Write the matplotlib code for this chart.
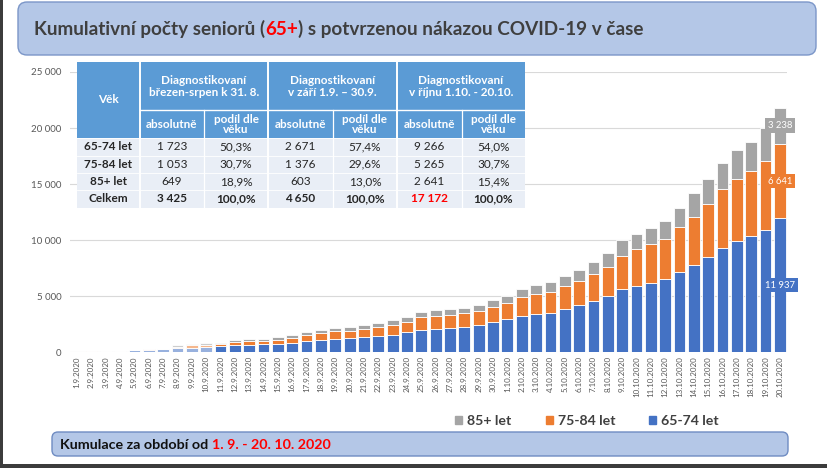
import matplotlib
matplotlib.use('Agg')
import matplotlib.pyplot as plt
from matplotlib.patches import FancyBboxPatch, Rectangle, Patch
from matplotlib.ticker import FuncFormatter

plt.rcParams['font.family'] = ['Lato', 'DejaVu Sans']

# ---------------- data ----------------
dates = [f"{d}.9.2020" for d in range(1, 31)] + [f"{d}.10.2020" for d in range(1, 21)]

s6574 = [20, 40, 60, 80, 150, 200, 260, 320, 400, 430,
         500, 600, 640, 680, 700, 800, 980, 1070, 1190, 1250,
         1370, 1430, 1550, 1790, 1960, 2080, 2150, 2260, 2410, 2671,
         2920, 3210, 3390, 3510, 3870, 4170, 4550, 5000, 5600, 5920,
         6190, 6550, 7140, 7770, 8450, 9290, 9910, 10360, 10890, 11937]
s7584 = [10, 15, 25, 30, 20, 30, 30, 160, 200, 210,
         200, 280, 320, 320, 360, 420, 510, 600, 660, 660,
         710, 830, 860, 890, 1140, 1130, 1150, 1190, 1250, 1376,
         1480, 1670, 1790, 1880, 2020, 2200, 2410, 2620, 3000, 3250,
         3420, 3570, 3990, 4310, 4760, 5230, 5510, 5770, 6190, 6641]
s85 = [10, 15, 15, 20, 20, 20, 20, 120, 120, 140,
       130, 150, 160, 190, 270, 310, 330, 290, 320, 350,
       300, 360, 450, 480, 500, 540, 510, 510, 540, 603,
       630, 720, 800, 830, 870, 950, 1100, 1190, 1360, 1370,
       1430, 1610, 1760, 2090, 2210, 2330, 2620, 2650, 2950, 3238]

series_names = ['65-74 let', '75-84 let', '85+ let']
yticks = [0, 5000, 10000, 15000, 20000, 25000]

title_parts = [("Kumulativní počty seniorů (", '#3f3f3f'), ("65+", '#ff0000'),
               (") s potvrzenou nákazou COVID-19 v čase", '#3f3f3f')]
footer_parts = [("Kumulace za období od ", '#111111'), ("1. 9. - 20. 10. 2020", '#ff0000')]

tbl_groups = ["Diagnostikovaní\nbřezen-srpen k 31. 8.",
              "Diagnostikovaní\nv září 1.9. – 30.9.",
              "Diagnostikovaní\nv říjnu 1.10. - 20.10."]
tbl_sub = ["absolutně", "podíl dle\nvěku"]
tbl_rows = ["65-74 let", "75-84 let", "85+ let", "Celkem"]
tbl_vals = [["1 723", "50,3%", "2 671", "57,4%", "9 266", "54,0%"],
            ["1 053", "30,7%", "1 376", "29,6%", "5 265", "30,7%"],
            ["649", "18,9%", "603", "13,0%", "2 641", "15,4%"],
            ["3 425", "100,0%", "4 650", "100,0%", "17 172", "100,0%"]]

BLUE, ORANGE, GRAY = '#4472c4', '#ed7d31', '#a5a5a5'
W, H = 827, 468

fig = plt.figure(figsize=(W / 100, H / 100), dpi=100)
fig.patch.set_facecolor('white')

# ---------------- chart ----------------
L, R, T, B = 70, 787, 72, 352
ax = fig.add_axes([L / W, 1 - B / H, (R - L) / W, (B - T) / H])
x = list(range(len(dates)))
bw = 0.82
ax.bar(x, s6574, width=bw, color=BLUE, edgecolor='white', linewidth=0.6, zorder=3)
bot2 = list(s6574)
ax.bar(x, s7584, width=bw, bottom=bot2, color=ORANGE, edgecolor='white', linewidth=0.6, zorder=3)
bot3 = [a + b for a, b in zip(s6574, s7584)]
ax.bar(x, s85, width=bw, bottom=bot3, color=GRAY, edgecolor='white', linewidth=0.6, zorder=3)

ax.set_xlim(-0.5, len(dates) - 0.5)
ax.set_ylim(0, 25000)
ax.set_yticks(yticks)
ax.yaxis.set_major_formatter(FuncFormatter(lambda v, p: f"{int(v):,}".replace(',', ' ')))
ax.set_xticks(x)
ax.set_xticklabels(dates, rotation=90, fontsize=5.8, color='#595959')
ax.tick_params(axis='y', labelsize=7, labelcolor='#595959', length=0, pad=6)
ax.tick_params(axis='x', length=0, pad=3)
ax.grid(axis='y', color='#d9d9d9', linewidth=0.8, zorder=0)
for s in ax.spines.values():
    s.set_visible(False)

# data labels on the last bar
last = len(dates) - 1
lab_kw = dict(ha='center', va='center', color='white', fontsize=6.8, zorder=6)
ax.text(last, s6574[last] / 2, f"{s6574[last]:,}".replace(',', ' '),
        bbox=dict(boxstyle='square,pad=0.3', fc=BLUE, ec='none'), **lab_kw)
ax.text(last, bot2[last] + s7584[last] / 2, f"{s7584[last]:,}".replace(',', ' '),
        bbox=dict(boxstyle='square,pad=0.3', fc=ORANGE, ec='none'), **lab_kw)
ax.text(last, bot3[last] + s85[last] / 2, f"{s85[last]:,}".replace(',', ' '),
        bbox=dict(boxstyle='square,pad=0.3', fc=GRAY, ec='none'), **lab_kw)

# legend
handles = [Patch(color=GRAY, label=series_names[2]),
           Patch(color=ORANGE, label=series_names[1]),
           Patch(color=BLUE, label=series_names[0])]
leg = fig.legend(handles=handles, loc='center', bbox_to_anchor=(587 / W, 1 - 421 / H), ncol=3,
                 frameon=False, handlelength=0.5, handleheight=0.5, handletextpad=0.35,
                 columnspacing=2.4, prop={'size': 10.2, 'weight': 'bold'})
for t in leg.get_texts():
    t.set_color('#404040')

# ---------------- overlay (pixel coords) ----------------
ov = fig.add_axes([0, 0, 1, 1], zorder=10)
ov.set_xlim(0, W)
ov.set_ylim(H, 0)
ov.axis('off')
ov.patch.set_alpha(0)

# washed-out area over first bars (as in the source screenshot)
ov.add_patch(Rectangle((70, 318), 143, 34, fc='white', ec='none', alpha=0.45))

# title box
ov.add_patch(FancyBboxPatch((18, 2), 798, 53, boxstyle='round,pad=0,rounding_size=9',
                            fc='#b4c7e7', ec='#7b96c8', lw=1.0))
# footer box
ov.add_patch(FancyBboxPatch((52, 432), 736, 24, boxstyle='round,pad=0,rounding_size=6',
                            fc='#b4c7e7', ec='#6f8cc2', lw=1.0))

fig.canvas.draw()
renderer = fig.canvas.get_renderer()


def draw_parts(parts, x0, y0, size, weight):
    xpos = x0
    for txt, col in parts:
        t = ov.text(xpos, y0, txt, fontsize=size, fontweight=weight, color=col,
                    ha='left', va='baseline')
        bb = t.get_window_extent(renderer=renderer)
        xpos += bb.width * 100 / fig.dpi


draw_parts(title_parts, 34, 35, 13.6, 'bold')
draw_parts(footer_parts, 60, 449, 10.3, 'bold')

# table
cx = [76.5, 140, 204, 268, 333, 397, 462, 525]
hy = [61.5, 110, 138.3]
ry = [138.3, 155.6, 173.0, 190.3, 207.7]
HEAD = '#5b9bd5'
ROWC = '#e9eef6'
ov.add_patch(Rectangle((cx[0], hy[0]), cx[-1] - cx[0], hy[2] - hy[0], fc=HEAD, ec='none'))
ov.add_patch(Rectangle((cx[0], ry[0]), cx[-1] - cx[0], ry[-1] - ry[0], fc=ROWC, ec='none'))
# white separators
ov.plot([cx[1], cx[-1]], [hy[1], hy[1]], color='white', lw=1.0)
for i in range(1, 7):
    top = hy[0] if i in (1, 3, 5) else hy[1]
    ov.plot([cx[i], cx[i]], [top, ry[-1]], color='white', lw=1.4 if i in (1, 3, 5) else 0.9)
for yv in ry[:-1]:
    ov.plot([cx[0], cx[-1]], [yv, yv], color='white', lw=0.6)

HS = 8.5
DS = 8.5
ov.text((cx[0] + cx[1]) / 2, (hy[0] + hy[2]) / 2, "Věk", ha='center', va='center',
        color='white', fontsize=HS, fontweight='bold')
for g in range(3):
    xa, xb = cx[1 + 2 * g], cx[3 + 2 * g]
    ov.text((xa + xb) / 2, (hy[0] + hy[1]) / 2 + 1, tbl_groups[g], ha='center', va='center',
            color='white', fontsize=HS, fontweight='bold', linespacing=1.15)
    for k in range(2):
        xa2, xb2 = cx[1 + 2 * g + k], cx[2 + 2 * g + k]
        ov.text((xa2 + xb2) / 2, (hy[1] + hy[2]) / 2 + 0.5, tbl_sub[k], ha='center', va='center',
                color='white', fontsize=HS, fontweight='bold', linespacing=0.95)
for r in range(4):
    yc = (ry[r] + ry[r + 1]) / 2
    ov.text((cx[0] + cx[1]) / 2, yc, tbl_rows[r], ha='center', va='center',
            color='#262626', fontsize=DS, fontweight='bold')
    for c in range(6):
        col = '#ff0000' if (r == 3 and c == 4) else '#262626'
        ov.text((cx[c + 1] + cx[c + 2]) / 2, yc, tbl_vals[r][c], ha='center', va='center',
                color=col, fontsize=DS, fontweight='bold' if r == 3 else 'normal')

# screenshot borders
ov.add_patch(Rectangle((0, 0), 3, H, fc='#3c3c3c', ec='none'))
ov.add_patch(Rectangle((0, 464), W, 4, fc='#3c3c3c', ec='none'))

fig.savefig('out.png', dpi=100)
